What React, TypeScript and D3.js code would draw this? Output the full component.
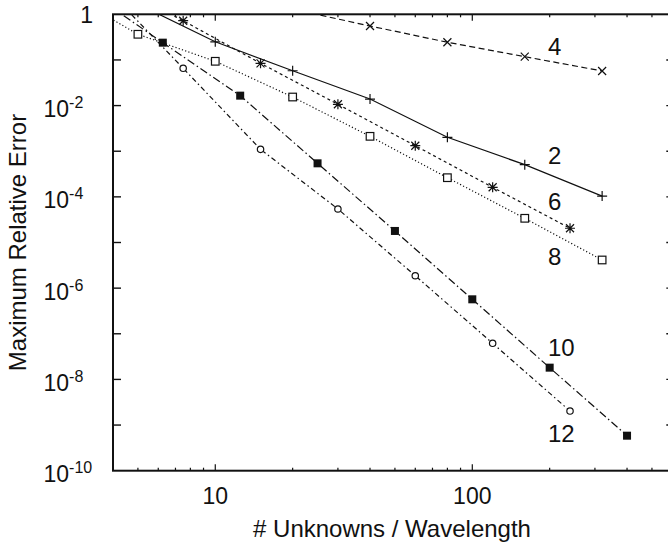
import React from 'react';
import * as d3 from 'd3';

const W = 668;
const H = 547;
const FRAME = { left: 113, right: 672.3, top: 14.3, bottom: 470.7 };
const FONT = '"Liberation Sans", Arial, Helvetica, sans-serif';

// Unknowns per wavelength (x) and maximum relative error (y) for each order
const order2N = [5, 10, 20, 40, 80, 160, 320];
const order2Err = [1.68, 0.25, 0.058, 0.0139, 0.00202, 5.07e-4, 1.04e-4];

const order4N = [20, 40, 80, 160, 320];
const order4Err = [1.3, 0.554, 0.244, 0.118, 0.0573];

const order6N = [3.75, 7.5, 15, 30, 60, 120, 240];
const order6Err = [6.0, 0.724, 0.0844, 0.01067, 1.32e-3, 1.62e-4, 2.05e-5];

const order8N = [2.5, 5, 10, 20, 40, 80, 160, 320];
const order8Err = [3.5, 0.365, 0.0934, 0.0154, 0.00212, 2.63e-4, 3.39e-5, 4.14e-6];

const order10N = [3.125, 6.25, 12.5, 25, 50, 100, 200, 400];
const order10Err = [3.5, 0.239, 0.0165, 5.43e-4, 1.79e-5, 5.69e-7, 1.81e-8, 5.85e-10];

const order12N = [3.75, 7.5, 15, 30, 60, 120, 240];
const order12Err = [3.8, 0.0656, 1.1e-3, 5.42e-5, 1.87e-6, 6.18e-8, 2.03e-9];

const orders = ['2', '4', '6', '8', '10', '12'];
const seriesN = [order2N, order4N, order6N, order8N, order10N, order12N];
const seriesErr = [order2Err, order4Err, order6Err, order8Err, order10Err, order12Err];

// Order labels placed in data units
const orderLabelN = 197;
const orderLabelErr = [5.25e-4, 0.128, 5.15e-5, 3.2e-6, 3.26e-8, 4.26e-10];

const xTickLabels = [10, 100];
const yTickExponents = [0, -2, -4, -6, -8, -10];

type Marker = 'plus' | 'cross' | 'star' | 'square' | 'filledSquare' | 'circle';
const styleByOrder: Record<string, { dash?: string; marker: Marker }> = {
  '2': { marker: 'plus' },
  '4': { dash: '6,3.5', marker: 'cross' },
  '6': { dash: '3,3', marker: 'star' },
  '8': { dash: '1.2,2.2', marker: 'square' },
  '10': { dash: '8,3,1.5,3', marker: 'filledSquare' },
  '12': { dash: '5,3,1.5,3', marker: 'circle' },
};

const INK = '#111';

function MarkerShape({ type, cx, cy }: { type: Marker; cx: number; cy: number }) {
  const sw = 1.2;
  switch (type) {
    case 'plus':
      return (
        <path d={`M${cx - 5},${cy}H${cx + 5}M${cx},${cy - 5}V${cy + 5}`} stroke={INK} strokeWidth={sw} fill="none" />
      );
    case 'cross':
      return (
        <path d={`M${cx - 4},${cy - 4}L${cx + 4},${cy + 4}M${cx - 4},${cy + 4}L${cx + 4},${cy - 4}`} stroke={INK} strokeWidth={sw} fill="none" />
      );
    case 'star':
      return (
        <path
          d={`M${cx - 4},${cy - 4}L${cx + 4},${cy + 4}M${cx - 4},${cy + 4}L${cx + 4},${cy - 4}M${cx - 5},${cy}H${cx + 5}M${cx},${cy - 5}V${cy + 5}`}
          stroke={INK}
          strokeWidth={sw}
          fill="none"
        />
      );
    case 'square':
      return <rect x={cx - 3.8} y={cy - 3.8} width={7.6} height={7.6} stroke={INK} strokeWidth={sw} fill="#fff" />;
    case 'filledSquare':
      return <rect x={cx - 4} y={cy - 4} width={8} height={8} fill={INK} />;
    case 'circle':
      return <circle cx={cx} cy={cy} r={3.2} stroke={INK} strokeWidth={sw} fill="#fff" />;
  }
}

export default function App() {
  const x = d3.scaleLog().domain([4, 600]).range([FRAME.left, FRAME.right]);
  const y = d3.scaleLog().domain([1e-10, 1]).range([FRAME.bottom, FRAME.top]);

  const line = d3
    .line<[number, number]>()
    .x((d) => x(d[0]))
    .y((d) => y(d[1]));

  const xMinor = x.ticks().filter((t) => t > 4 && t < 600);
  const yMajor = d3.range(-9, 0).map((e) => Math.pow(10, e));

  return (
    <svg
      width={W}
      height={H}
      style={{ position: 'absolute', left: 0, top: 0, background: '#fff' }}
      fontFamily={FONT}
    >
      <defs>
        <clipPath id="plot-area">
          <rect x={FRAME.left} y={FRAME.top} width={FRAME.right - FRAME.left} height={FRAME.bottom - FRAME.top} />
        </clipPath>
      </defs>
      <rect width={W} height={H} fill="#fff" />

      {/* curves */}
      <g clipPath="url(#plot-area)">
        {orders.map((o, i) => {
          const pts = seriesN[i].map((n, j) => [n, seriesErr[i][j]] as [number, number]);
          const st = styleByOrder[o];
          return (
            <g key={o}>
              <path d={line(pts) || ''} fill="none" stroke={INK} strokeWidth={1.2} strokeDasharray={st.dash} />
              {pts.map((p, j) => (
                <MarkerShape key={j} type={st.marker} cx={x(p[0])} cy={y(p[1])} />
              ))}
            </g>
          );
        })}
      </g>

      {/* frame */}
      <rect
        x={FRAME.left}
        y={FRAME.top}
        width={FRAME.right - FRAME.left}
        height={FRAME.bottom - FRAME.top}
        fill="none"
        stroke={INK}
        strokeWidth={2}
      />

      {/* x ticks, bottom and top */}
      {xMinor.map((t) => {
        const major = Math.abs(Math.log10(t) - Math.round(Math.log10(t))) < 1e-9;
        const len = major ? 6.5 : 3;
        const px = x(t);
        return (
          <g key={`xt${t}`} stroke={INK} strokeWidth={1.2}>
            <line x1={px} x2={px} y1={FRAME.bottom} y2={FRAME.bottom - len} />
            <line x1={px} x2={px} y1={FRAME.top} y2={FRAME.top + len} />
          </g>
        );
      })}

      {/* y ticks, left and right */}
      {yMajor.map((t) => {
        const py = y(t);
        return (
          <g key={`yt${t}`} stroke={INK} strokeWidth={1.4}>
            <line x1={FRAME.left} x2={FRAME.left + 8} y1={py} y2={py} />
            <line x1={FRAME.right} x2={FRAME.right - 6} y1={py} y2={py} />
          </g>
        );
      })}

      {/* x tick labels */}
      {xTickLabels.map((t) => (
        <text key={`xl${t}`} x={x(t)} y={504} fontSize={23} textAnchor="middle" fill={INK}>
          {t}
        </text>
      ))}

      {/* y tick labels */}
      {yTickExponents.map((e) => {
        const py = y(Math.pow(10, e));
        if (e === 0) {
          return (
            <text key="yl0" x={93} y={py + 9} fontSize={23} textAnchor="end" fill={INK}>
              1
            </text>
          );
        }
        return (
          <text key={`yl${e}`} x={43.5} y={py + 11.5} fontSize={23} fill={INK}>
            10
            <tspan fontSize={16} dy={-9}>
              {e}
            </tspan>
          </text>
        );
      })}

      {/* order labels */}
      {orders.map((o, i) => (
        <text key={`ol${o}`} x={x(orderLabelN)} y={y(orderLabelErr[i])} fontSize={24} fill={INK}>
          {o}
        </text>
      ))}

      {/* axis titles */}
      <text x={392} y={537} fontSize={24} textAnchor="middle" fill={INK}>
        # Unknowns / Wavelength
      </text>
      <text
        transform={`translate(26, ${(FRAME.top + FRAME.bottom) / 2}) rotate(-90)`}
        fontSize={24}
        textAnchor="middle"
        fill={INK}
      >
        Maximum Relative Error
      </text>
    </svg>
  );
}
